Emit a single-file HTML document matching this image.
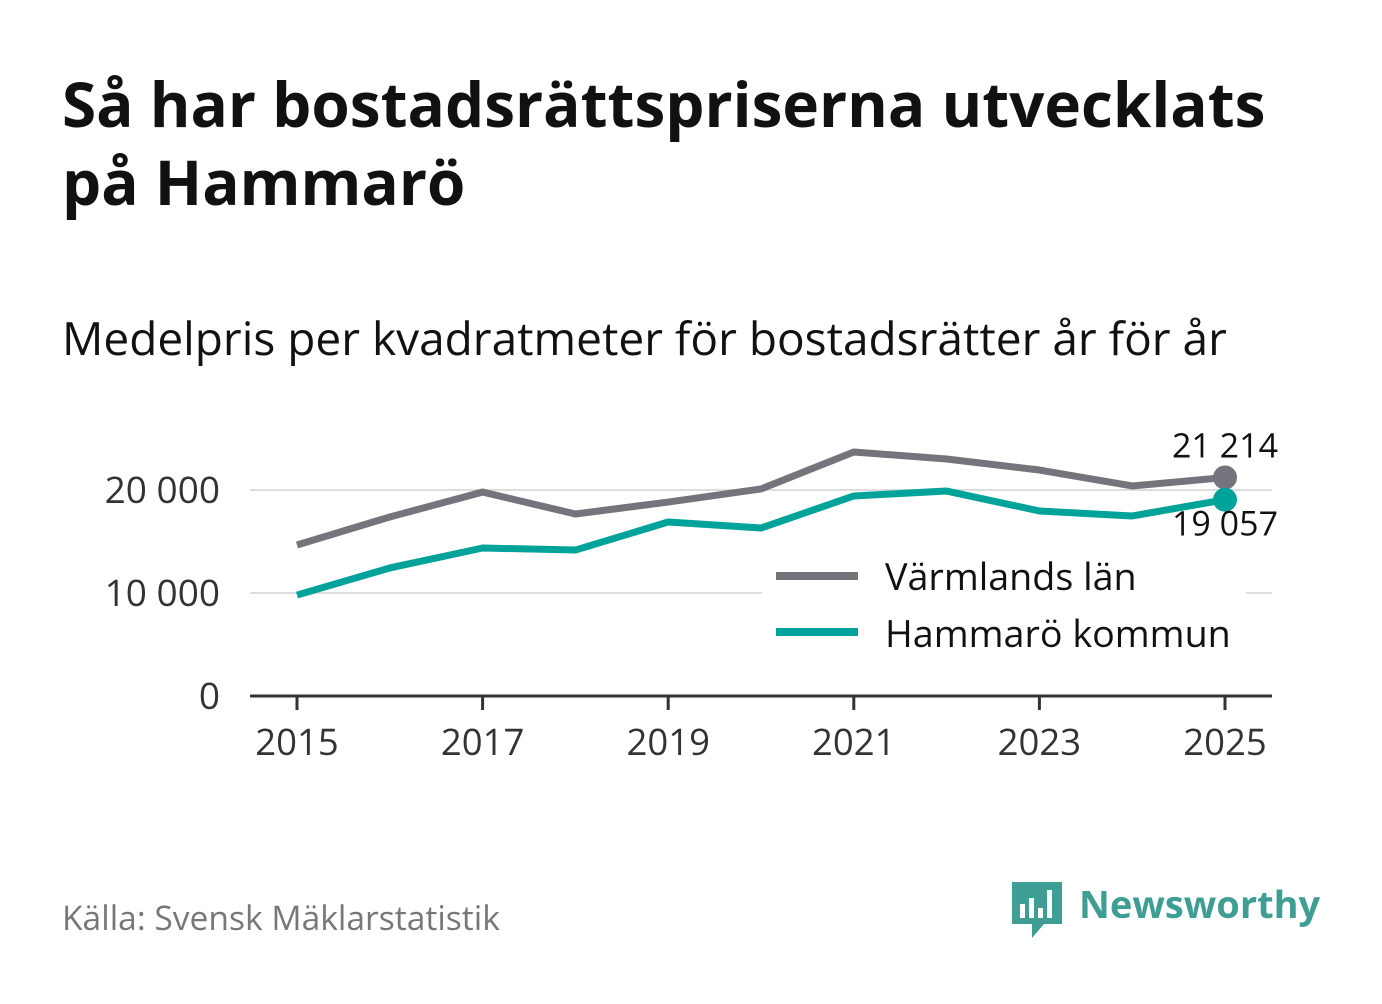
<!DOCTYPE html>
<html><head><meta charset="utf-8">
<style>
body{margin:0;width:1382px;height:999px;background:#fff;font-family:"Open Sans","Liberation Sans",sans-serif;overflow:hidden}
</style></head><body>
<svg width="1382" height="999">
<text x="62" y="127" font-size="62" font-weight="bold" fill="#111">Så har bostadsrättspriserna utvecklats</text>
<text x="62" y="205" font-size="62" font-weight="bold" fill="#111">på Hammarö</text>
<text x="62" y="355" font-size="46" fill="#111">Medelpris per kvadratmeter för bostadsrätter år för år</text>
<g id="grid"></g>
<g id="marks"></g>
<g>
<rect x="762" y="553" width="484" height="104" fill="#fff"/>
<line x1="776" y1="576" x2="858" y2="576" stroke="#75747c" stroke-width="8"/>
<text x="885" y="590" font-size="37.7" fill="#111">Värmlands län</text>
<line x1="776" y1="632" x2="858" y2="632" stroke="#00a39a" stroke-width="8"/>
<text x="885" y="647" font-size="37.7" fill="#111">Hammarö kommun</text>
</g>
<text x="62" y="930" font-size="33.6" fill="#777">Källa: Svensk Mäklarstatistik</text>
<g>
<path d="M1012 882 h50 v42 h-18 l-12 14 v-14 h-20 z" fill="#3e9e93"/>
<rect x="1020" y="904" width="5" height="14" fill="#fff"/><rect x="1029" y="898" width="5" height="20" fill="#fff"/><rect x="1038" y="908" width="5" height="10" fill="#fff"/><rect x="1047" y="890" width="5" height="28" fill="#fff"/>
<text x="1079" y="918" font-size="38" font-weight="bold" fill="#3e9e93">Newsworthy</text>
</g>
</svg>
<script>
const years=[2015,2016,2017,2018,2019,2020,2021,2022,2023,2024,2025];
const varmland=[14660,17380,19800,17670,18830,20100,23690,23010,21940,20390,21214];
const hammaro=[9800,12430,14370,14170,16890,16310,19420,19900,17960,17480,19057];
const yTicks=[0,10000,20000];
const yTickLabels=["0","10 000","20 000"];
const xTicks=[2015,2017,2019,2021,2023,2025];
const NS="http://www.w3.org/2000/svg";
const x=v=>297+(v-2015)*92.8;
const y=v=>696-v*0.0103;
function mk(t,a,p){const e=document.createElementNS(NS,t);for(const k in a)e.setAttribute(k,a[k]);p.appendChild(e);return e;}
const g=document.getElementById('grid'),m=document.getElementById('marks');
yTicks.forEach((v,i)=>{
 if(v>0){const l=mk('line',{x1:250,x2:1272,y1:y(v),y2:y(v),stroke:'#ddd','stroke-width':2},g);
 
 }
 const t=mk('text',{x:220,y:y(v)+13,'font-size':37,fill:'#333','text-anchor':'end'},g);t.textContent=yTickLabels[i];
 
 
});
const ax=mk('line',{x1:250,x2:1272,y1:696,y2:696,stroke:'#333','stroke-width':3},g);


xTicks.forEach(v=>{
 mk('line',{x1:x(v),x2:x(v),y1:696,y2:710,stroke:'#333','stroke-width':3},g);
 const t=mk('text',{x:x(v),y:755,'font-size':36.5,fill:'#333','text-anchor':'middle'},g);t.textContent=v;
 
 
});
function series(d,c,name){
 const p=mk('polyline',{points:d.map((v,i)=>x(years[i])+','+y(v)).join(' '),fill:'none',stroke:c,'stroke-width':7,'stroke-linejoin':'round'},m);
 
 
 const n=d.length-1;
 const c2=mk('circle',{cx:x(years[n]),cy:y(d[n]),r:12,fill:c},m);
 
 
}
series(varmland,'#75747c','varmland');
series(hammaro,'#00a39a','hammaro');
const fmt=v=>String(Math.round(v)).replace(/\B(?=(\d{3})+(?!\d))/g,' ');
const n=years.length-1;
const l1=mk('text',{x:1225,y:y(varmland[n])-20,'font-size':34,fill:'#111','text-anchor':'middle'},m);l1.textContent=fmt(varmland[n]);


const l2=mk('text',{x:1225,y:y(hammaro[n])+36,'font-size':34,fill:'#111','text-anchor':'middle'},m);l2.textContent=fmt(hammaro[n]);


</script>
</body></html>
